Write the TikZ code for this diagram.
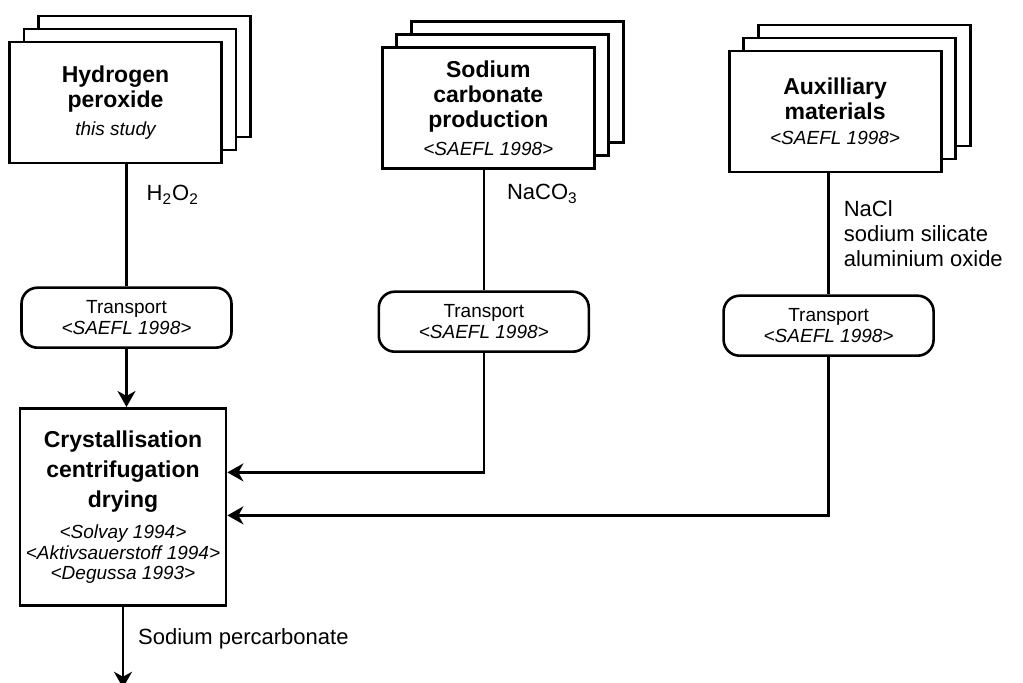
\documentclass[tikz,border=0pt]{standalone}
\usepackage{fontspec}
\setmainfont{Liberation Sans}
\usetikzlibrary{arrows.meta,positioning,shadows}
\newcommand\ttlfont{\fontsize{11.5}{12.5}\selectfont\bfseries}
\newcommand\reffont{\fontsize{9.5}{10.5}\selectfont\mdseries\itshape}

\begin{document}
\begin{tikzpicture}[node distance=60pt and 70pt,stack/.style={draw,line width=1.4pt,fill=white,minimum width=106pt,minimum height=60.5pt,align=center,inner sep=1pt,font=\ttlfont,copy shadow={shadow xshift=14.5pt,shadow yshift=13pt},copy shadow={shadow xshift=7.25pt,shadow yshift=6.5pt}},proc/.style={draw,line width=1.4pt,fill=white,minimum width=103pt,minimum height=98.5pt,align=center,inner sep=1pt,font=\ttlfont},trans/.style={draw,line width=1.3pt,rounded corners=8pt,minimum width=105pt,minimum height=30pt,align=center,inner sep=1pt,font=\fontsize{9.5}{10.5}\selectfont},lbl/.style={inner sep=0pt,align=left,font=\fontsize{11}{12.5}\selectfont},ln/.style={line width=1.2pt},arr/.style={ln,-{Stealth[length=8pt,width=9pt,inset=2.5pt]}}]
\useasboundingbox (0,0) rectangle (511.5pt,-341.5pt);
\node[stack] (H) at (57.75pt,-51.25pt) {Hydrogen\\peroxide\\[1.5pt]{\reffont this study}};
\node[stack,right=79pt of H,yshift=-2.75pt] (S) {Sodium\\carbonate\\production\\[1.5pt]{\reffont <SAEFL 1998>}};
\node[stack,right=66pt of S,yshift=-1.75pt] (A) {Auxilliary\\materials\\{\reffont <SAEFL 1998>}};
\node[trans,below=61pt of H,xshift=5.5pt] (TH) {Transport\\{\itshape <SAEFL 1998>}};
\node[trans,below=60.25pt of S,xshift=-2.25pt] (TS) {Transport\\{\itshape <SAEFL 1998>}};
\node[trans,below=60.5pt of A,xshift=-3.25pt] (TA) {Transport\\{\itshape <SAEFL 1998>}};
\node[proc,below=29pt of TH,xshift=-1.75pt] (C) {Crystallisation\\[2.5pt]centrifugation\\[2.5pt]drying\\[3.25pt]{\reffont <Solvay 1994>}\\[-2.25pt]{\reffont <Aktivsauerstoff 1994>}\\[-2.25pt]{\reffont <Degussa 1993>}};
\coordinate[below=40.5pt of C] (out);
\draw[ln] (TH.north |- H.south) -- node[lbl,pos=0.25,right=9.5pt]{H\textsubscript{2}O\textsubscript{2}} (TH.north);
\draw[ln] (TS.north |- S.south) -- node[lbl,pos=0.2,right=11pt]{NaCO\textsubscript{3}} (TS.north);
\draw[ln] (TA.north |- A.south) -- node[lbl,pos=0.5,right=7pt]{NaCl\\sodium silicate\\aluminium oxide} (TA.north);
\draw[arr] (TH.south) -- (TH.south |- C.north);
\draw[arr] (TS.south) |- ([yshift=17.25pt]C.east);
\draw[arr] (TA.south) |- ([yshift=-4.25pt]C.east);
\draw[arr] (C.south) -- node[lbl,pos=0.4,right=7pt]{Sodium percarbonate} (out);
\end{tikzpicture}
\end{document}
